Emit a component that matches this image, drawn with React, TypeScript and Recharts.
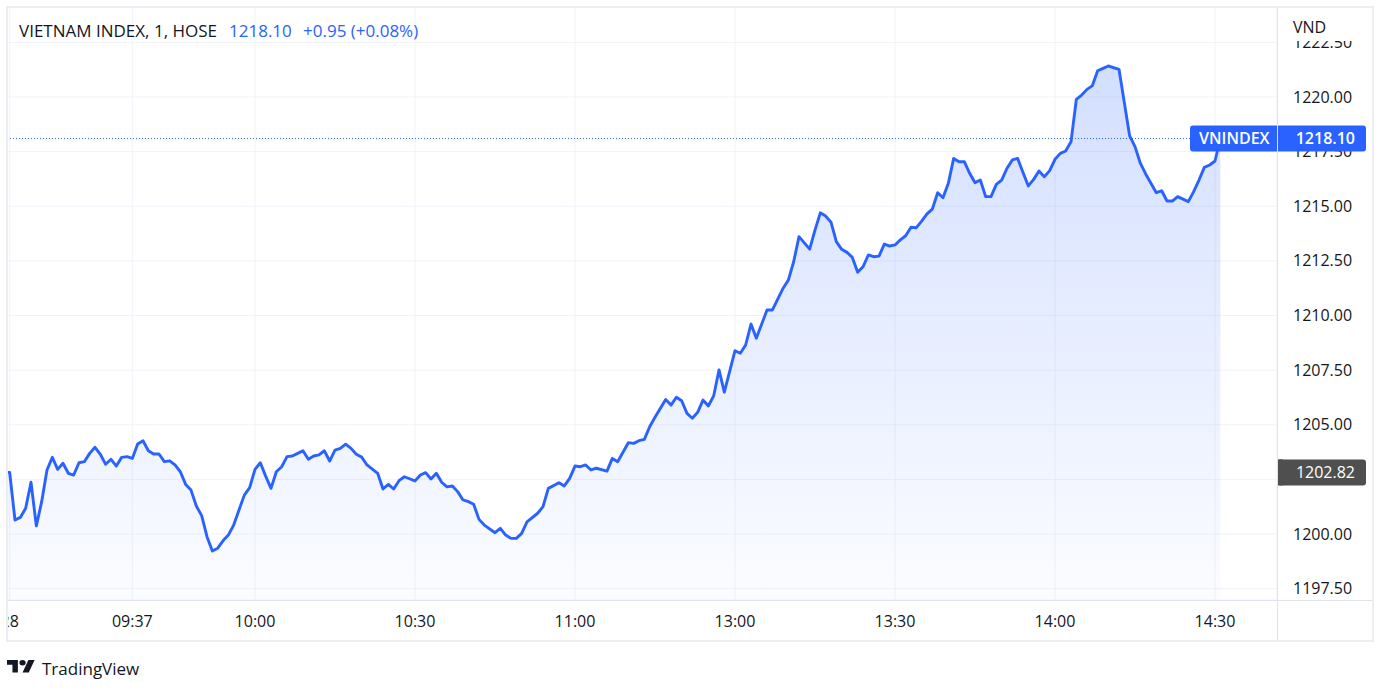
import React from "react"
import { ComposedChart, Area, XAxis, YAxis, CartesianGrid, ReferenceLine } from "recharts"

const FONT = '"Open Sans", "Noto Sans", sans-serif'
const BLUE = "#2962ff"
const INK = "#131722"
const LINE = "#e0e3eb"

const symbolName = "VIETNAM INDEX, 1, HOSE"
const shortName = "VNINDEX"
const changeText = "+0.95 (+0.08%)"
const currency = "VND"
const markedPrice = 1202.82

// trading minutes counted from the 09:15 open, lunch break removed
const minutes = [
  -2, -1, 0, 1, 2, 3, 4, 5, 6, 7,
  8, 9, 10, 11, 12, 13, 14, 15, 16, 17,
  18, 19, 20, 21, 22, 23, 24, 25, 26, 27,
  28, 29, 30, 31, 32, 33, 34, 35, 36, 37,
  38, 39, 40, 41, 42, 43, 44, 45, 46, 47,
  48, 49, 50, 51, 52, 53, 54, 55, 56, 57,
  58, 59, 60, 61, 62, 63, 64, 65, 66, 67,
  68, 69, 70, 71, 72, 73, 75, 76, 77, 78,
  79, 80, 81, 82, 83, 84, 85, 86, 87, 88,
  90, 91, 92, 93, 94, 95, 96, 98, 99, 100,
  102, 103, 104, 105, 106, 107, 108, 109, 111, 112,
  113, 115, 116, 117, 118, 119, 120, 122, 123, 124,
  125, 126, 127, 128, 129, 130, 131, 132, 133, 135,
  136, 137, 138, 139, 141, 142, 144, 145, 146, 147,
  149, 150, 151, 152, 153, 154, 155, 156, 157, 158,
  159, 160, 161, 162, 163, 164, 165, 166, 167, 168,
  169, 170, 171, 172, 173, 174, 175, 176, 177, 178,
  179, 180, 181, 182, 183, 184, 185, 186, 187, 188,
  189, 190, 191, 192, 193, 194, 195, 196, 197, 198,
  199, 200, 201, 202, 203, 204, 205, 207, 209, 210,
  211, 212, 214, 215, 216, 217, 218, 220, 221, 222,
  223, 224, 225, 226,
]

const prices = [
  1202.82, 1202.82, 1200.64, 1200.76, 1201.18, 1202.37, 1200.37, 1201.48, 1202.93, 1203.51,
  1202.96, 1203.24, 1202.78, 1202.7, 1203.26, 1203.31, 1203.69, 1203.97, 1203.65, 1203.19,
  1203.42, 1203.11, 1203.51, 1203.54, 1203.46, 1204.12, 1204.27, 1203.81, 1203.66, 1203.66,
  1203.31, 1203.35, 1203.16, 1202.85, 1202.27, 1202.01, 1201.28, 1200.84, 1199.88, 1199.22,
  1199.35, 1199.69, 1199.95, 1200.41, 1201.1, 1201.78, 1202.12, 1202.96, 1203.26, 1202.65,
  1202.09, 1202.85, 1203.08, 1203.54, 1203.57, 1203.69, 1203.81, 1203.42, 1203.57, 1203.62,
  1203.81, 1203.34, 1203.84, 1203.92, 1204.11, 1203.92, 1203.65, 1203.52, 1203.16, 1202.97,
  1202.78, 1202.06, 1202.27, 1202.06, 1202.44, 1202.62, 1202.43, 1202.7, 1202.81, 1202.52,
  1202.78, 1202.37, 1202.16, 1202.2, 1201.94, 1201.56, 1201.48, 1201.36, 1200.67, 1200.41,
  1200.06, 1200.26, 1199.95, 1199.8, 1199.8, 1200.03, 1200.56, 1200.95, 1201.25, 1202.09,
  1202.35, 1202.2, 1202.55, 1203.11, 1203.08, 1203.16, 1202.93, 1203.01, 1202.88, 1203.46,
  1203.31, 1204.18, 1204.15, 1204.27, 1204.33, 1204.91, 1205.34, 1206.16, 1205.9, 1206.26,
  1206.1, 1205.52, 1205.3, 1205.57, 1206.13, 1205.86, 1206.32, 1207.51, 1206.49, 1208.39,
  1208.27, 1208.65, 1209.61, 1208.96, 1210.25, 1210.25, 1211.24, 1211.62, 1212.46, 1213.61,
  1213.04, 1213.91, 1214.7, 1214.55, 1214.27, 1213.38, 1213.03, 1212.89, 1212.66, 1211.98,
  1212.23, 1212.77, 1212.69, 1212.72, 1213.27, 1213.18, 1213.23, 1213.46, 1213.65, 1214.04,
  1214.02, 1214.32, 1214.65, 1214.87, 1215.62, 1215.39, 1216.05, 1217.19, 1217.04, 1217.04,
  1216.51, 1216.08, 1216.2, 1215.44, 1215.44, 1216.0, 1216.2, 1216.74, 1217.12, 1217.19,
  1216.55, 1215.93, 1216.23, 1216.61, 1216.35, 1216.63, 1217.15, 1217.42, 1217.53, 1217.95,
  1219.89, 1220.09, 1220.35, 1220.52, 1221.2, 1221.31, 1221.42, 1221.27, 1218.22, 1217.73,
  1216.97, 1216.48, 1215.62, 1215.71, 1215.24, 1215.24, 1215.44, 1215.21, 1215.67, 1216.2,
  1216.78, 1216.89, 1217.07, 1218.1,
]

const timeTicks = [-1, 22, 45, 75, 105, 135, 165, 195, 225]
const timeLabels = ["28", "09:37", "10:00", "10:30", "11:00", "13:00", "13:30", "14:00", "14:30"]
const priceTicks = [1197.5, 1200, 1202.5, 1205, 1207.5, 1210, 1212.5, 1215, 1217.5, 1220, 1222.5]
const priceDomain = [1196.98, 1224.12]

const data = minutes.map((t, i) => ({ t, v: prices[i] }))
const lastPrice = prices[prices.length - 1]
const tagPrices = [markedPrice, lastPrice]

function TimeTick({ x, y, payload }: any) {
  const label = timeLabels[timeTicks.indexOf(payload.value)]
  return (
    <text x={x} y={y} dy="0.35em" textAnchor="middle" fill={INK} fontSize={16} fontFamily={FONT}>
      {label}
    </text>
  )
}

function PriceTick({ x, y, payload }: any) {
  return (
    <text x={x} y={y} dy="0.35em" textAnchor="start" fill={INK} fontSize={16} fontFamily={FONT}>
      {payload.value.toFixed(2)}
    </text>
  )
}

// price tags drawn by a second, tick-only price axis so they sit above the scale labels
function TagTick({ x, y, payload }: any) {
  const scaleLeft = x - 96 // left edge of the price scale
  const right = scaleLeft + 89 // right edge of the tags
  if (payload.value === lastPrice) {
    return (
      <g>
        <rect x={scaleLeft - 87} y={y - 13} width={176} height={26} rx={3} fill={BLUE} />
        <text x={scaleLeft - 78} y={y} dy="0.35em" fill="#fff" fontSize={16} fontWeight={600} fontFamily={FONT}>
          {shortName}
        </text>
        <text x={right - 11} y={y} dy="0.35em" textAnchor="end" fill="#fff" fontSize={16} fontWeight={600} fontFamily={FONT}>
          {lastPrice.toFixed(2)}
        </text>
      </g>
    )
  }
  return (
    <g>
      <rect x={scaleLeft} y={y - 13} width={89} height={26} rx={3} fill="#4f4f4f" />
      <rect x={scaleLeft} y={y - 13} width={6} height={26} fill="#4f4f4f" />
      <text x={right - 11} y={y} dy="0.35em" textAnchor="end" fill="#fff" fontSize={16} fontFamily={FONT}>
        {payload.value.toFixed(2)}
      </text>
    </g>
  )
}

export default function App() {
  return (
    <div style={{ position: "absolute", left: 0, top: 0, width: 1388, height: 695, background: "#fff", overflow: "hidden", fontFamily: FONT, color: INK }}>
      <div style={{ position: "absolute", left: 0, top: 0 }}>
        <ComposedChart width={1388} height={695} data={data} margin={{ top: 7, right: 14, bottom: 54, left: 7 }}>
          <defs>
            <linearGradient id="vnFill" x1="0" y1="0" x2="0" y2="1">
              <stop offset="0%" stopColor={BLUE} stopOpacity={0.34} />
              <stop offset="100%" stopColor={BLUE} stopOpacity={0.03} />
            </linearGradient>
          </defs>
          <CartesianGrid stroke="#f0f3fa" />
          <XAxis
            type="number"
            dataKey="t"
            domain={[-1.5, 236.625]}
            allowDataOverflow
            ticks={timeTicks}
            interval={0}
            height={41}
            axisLine={false}
            tickLine={false}
            tickMargin={15}
            tick={<TimeTick />}
          />
          <YAxis
            orientation="right"
            domain={priceDomain}
            allowDataOverflow
            ticks={priceTicks}
            interval={0}
            width={96}
            axisLine={false}
            tickLine={false}
            tickMargin={10}
            tick={<PriceTick />}
          />
          <YAxis
            yAxisId="tags"
            orientation="right"
            domain={priceDomain}
            allowDataOverflow
            ticks={tagPrices}
            interval={0}
            width={1}
            axisLine={false}
            tickLine={false}
            tickSize={0}
            tickMargin={0}
            tick={<TagTick />}
          />
          <Area
            type="linear"
            dataKey="v"
            stroke={BLUE}
            strokeWidth={2.9}
            strokeLinejoin="round"
            fill="url(#vnFill)"
            dot={false}
            activeDot={false}
            isAnimationActive={false}
          />
          <ReferenceLine y={lastPrice} stroke={BLUE} strokeDasharray="1 2" />
        </ComposedChart>
      </div>

      {/* header legend */}
      <div style={{ position: "absolute", left: 19, top: 19, fontSize: 17, lineHeight: "23px", whiteSpace: "nowrap" }}>{symbolName}</div>
      <div style={{ position: "absolute", left: 229, top: 19, fontSize: 17, lineHeight: "23px", color: BLUE, whiteSpace: "nowrap" }}>{lastPrice.toFixed(2)}</div>
      <div style={{ position: "absolute", left: 303, top: 19, fontSize: 17, lineHeight: "23px", color: BLUE, whiteSpace: "nowrap" }}>{changeText}</div>

      {/* currency box over the price scale */}
      <div style={{ position: "absolute", left: 1278, top: 8, width: 94, height: 33, background: "#fff" }}>
        <div style={{ position: "absolute", left: 15, top: 8, fontSize: 16, lineHeight: "22px" }}>{currency}</div>
      </div>

      {/* pane borders */}
      <div style={{ position: "absolute", left: 0, top: 598, width: 6, height: 46, background: "#fff" }} />
      <div style={{ position: "absolute", left: 7, top: 600, width: 1366, height: 1, background: LINE }} />
      <div style={{ position: "absolute", left: 1277, top: 7, width: 1, height: 634, background: LINE }} />
      <div style={{ position: "absolute", left: 6, top: 6, width: 1368, height: 636, boxSizing: "border-box", border: "2px solid #eceef2" }} />

      {/* logo */}
      <svg style={{ position: "absolute", left: 7, top: 660 }} width={28} height={12.5} viewBox="0 4 36 18" preserveAspectRatio="none">
        <path d="M14 22H7V11H0V4h14v18zM28 22h-8l7.5-18h8L28 22z" fill={INK} />
        <circle cx={20} cy={8} r={4} fill={INK} />
      </svg>
      <div style={{ position: "absolute", left: 42, top: 657, fontSize: 17, lineHeight: "23px", whiteSpace: "nowrap" }}>TradingView</div>
    </div>
  )
}
